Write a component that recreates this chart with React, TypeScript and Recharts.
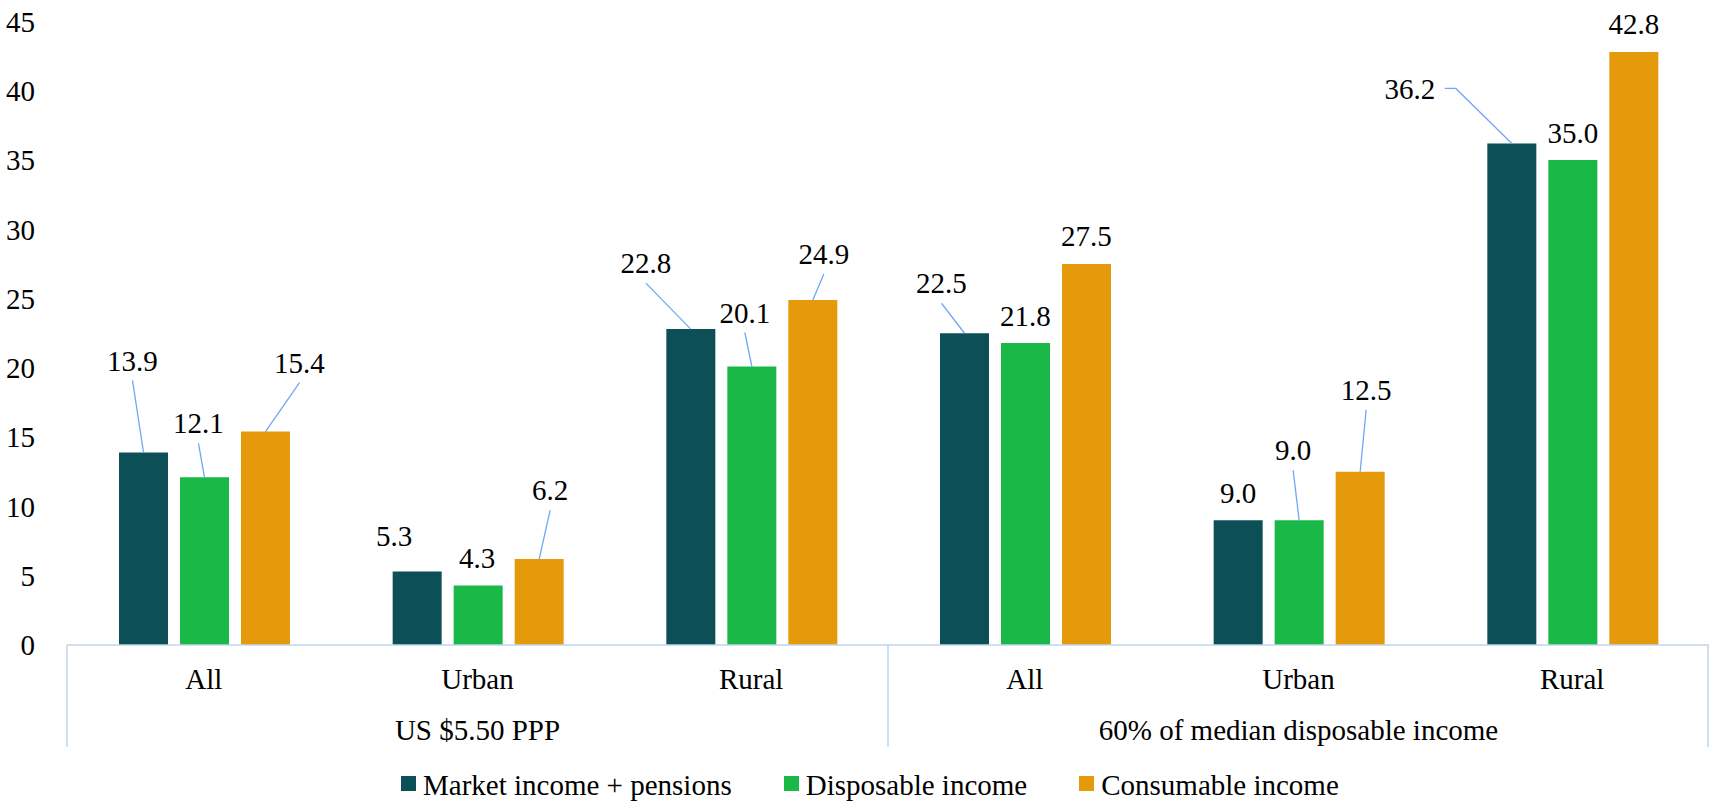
import { BarChart, Bar, XAxis, YAxis, Legend, LabelList } from "recharts";

// poverty rates (%) by location, two poverty lines
const categories = ["All", "Urban", "Rural", "All", "Urban", "Rural"];
const groups = ["US $5.50 PPP", "60% of median disposable income"];
const marketIncome = [13.9, 5.3, 22.8, 22.5, 9.0, 36.2];
const disposableIncome = [12.1, 4.3, 20.1, 21.8, 9.0, 35.0];
const consumableIncome = [15.4, 6.2, 24.9, 27.5, 12.5, 42.8];
const yTicks = [0, 5, 10, 15, 20, 25, 30, 35, 40, 45];

const seriesNames = ["Market income + pensions", "Disposable income", "Consumable income"];
const seriesKeys = ["market", "disposable", "consumable"];
const colors = ["#0C4F56", "#1AB846", "#E59A0C"];

// label placement relative to the top centre of each bar: [dx, dy, leader]
// leader: 0 none, 1 line from under the label, 2 line from the label's right side
const labelPlacement = [
  [[-11, -92, 1], [-23, -36, 0], [-45, -66, 1], [-23, -50, 1], [0, -27, 0], [-102, -55, 2]],
  [[-6, -54, 1], [-1, -28, 0], [-7, -54, 1], [0, -27, 0], [-6, -70, 1], [0, -27, 0]],
  [[34, -69, 1], [11, -69, 1], [11, -46, 1], [0, -28, 0], [6, -82, 1], [0, -28, 0]],
];

const data = categories.map((category, i) => ({
  category,
  market: marketIncome[i],
  disposable: disposableIncome[i],
  consumable: consumableIncome[i],
}));

const W = 1709;
const H = 801;
const Y_AXIS_W = 67;
const X_AXIS_H = 102;
const LEGEND_H = 30;
const BAND = (W - Y_AXIS_W) / categories.length;
const FONT = "Liberation Serif, Times New Roman, serif";
const AXIS_COLOR = "#BDD7EE";
const LEADER_COLOR = "#6FA8F5";

const makeLabel = (s: number) => (props: any) => {
  const { x, y, width, value, index } = props;
  const [dx, dy, leader] = labelPlacement[s][index];
  const cx = Number(x) + Number(width) / 2;
  const top = Number(y);
  let line = null;
  if (leader === 1) {
    line = <line x1={cx + dx} y1={top + dy + 20} x2={cx} y2={top} stroke={LEADER_COLOR} strokeWidth={1.3} />;
  } else if (leader === 2) {
    line = (
      <polyline
        points={`${cx + dx + 35},${top + dy} ${cx + dx + 46},${top + dy} ${cx},${top}`}
        fill="none"
        stroke={LEADER_COLOR}
        strokeWidth={1.3}
      />
    );
  }
  return (
    <g>
      {line}
      <text x={cx + dx} y={top + dy} dy="0.35em" textAnchor="middle" fontSize={29} fill="#000" fontFamily={FONT}>
        {Number(value).toFixed(1)}
      </text>
    </g>
  );
};

const CategoryTick = (props: any) => {
  const { x, y, payload } = props;
  const i = payload.index;
  const half = payload.offset || BAND / 2;
  return (
    <g>
      <text x={x} y={y + 34} dy="0.35em" textAnchor="middle" fontSize={29} fill="#000" fontFamily={FONT}>
        {payload.value}
      </text>
      {(i === 1 || i === 4) && (
        <text x={x} y={y + 85} dy="0.35em" textAnchor="middle" fontSize={29} fill="#000" fontFamily={FONT}>
          {groups[i === 1 ? 0 : 1]}
        </text>
      )}
      {(i === 0 || i === 3) && <line x1={x - half} y1={y} x2={x - half} y2={y + X_AXIS_H} stroke={AXIS_COLOR} strokeWidth={1.5} />}
      {i === 5 && <line x1={x + half - 1} y1={y} x2={x + half - 1} y2={y + X_AXIS_H} stroke={AXIS_COLOR} strokeWidth={1.5} />}
    </g>
  );
};

const LegendContent = () => (
  <div style={{ display: "flex", alignItems: "center", height: LEGEND_H, fontFamily: FONT, fontSize: 29, lineHeight: "30px", whiteSpace: "nowrap" }}>
    {seriesNames.map((name, i) => (
      <div key={name} style={{ display: "flex", alignItems: "center", marginRight: i < 2 ? 52 : 0 }}>
        <span style={{ display: "inline-block", width: 15, height: 15, background: colors[i], marginRight: 7, marginTop: -3 }} />
        <span style={{ color: "#000" }}>{name}</span>
      </div>
    ))}
  </div>
);

export default function App() {
  return (
    <div style={{ position: "absolute", left: 0, top: 0, width: W, height: H, background: "#fff", fontFamily: FONT }}>
      <BarChart
        width={W}
        height={H}
        data={data}
        margin={{ top: 21.5, right: 0, left: 0, bottom: 24 }}
        barCategoryGap="19%"
        barGap={12}
      >
        <XAxis
          dataKey="category"
          height={X_AXIS_H}
          interval={0}
          tickLine={false}
          tickSize={0}
          tickMargin={0}
          axisLine={{ stroke: AXIS_COLOR, strokeWidth: 1.5 }}
          tick={<CategoryTick />}
        />
        <YAxis
          width={Y_AXIS_W}
          domain={[0, 45]}
          ticks={yTicks}
          interval={0}
          axisLine={false}
          tickLine={false}
          tickSize={0}
          tickMargin={32}
          tick={{ fontSize: 29, fill: "#000", fontFamily: FONT }}
        />
        <Legend
          content={<LegendContent />}
          wrapperStyle={{ top: 770, bottom: "auto", left: 401, width: 1100, height: LEGEND_H }}
        />
        {seriesKeys.map((key, s) => (
          <Bar key={key} dataKey={key} name={seriesNames[s]} fill={colors[s]} isAnimationActive={false}>
            <LabelList dataKey={key} content={makeLabel(s)} />
          </Bar>
        ))}
      </BarChart>
    </div>
  );
}
